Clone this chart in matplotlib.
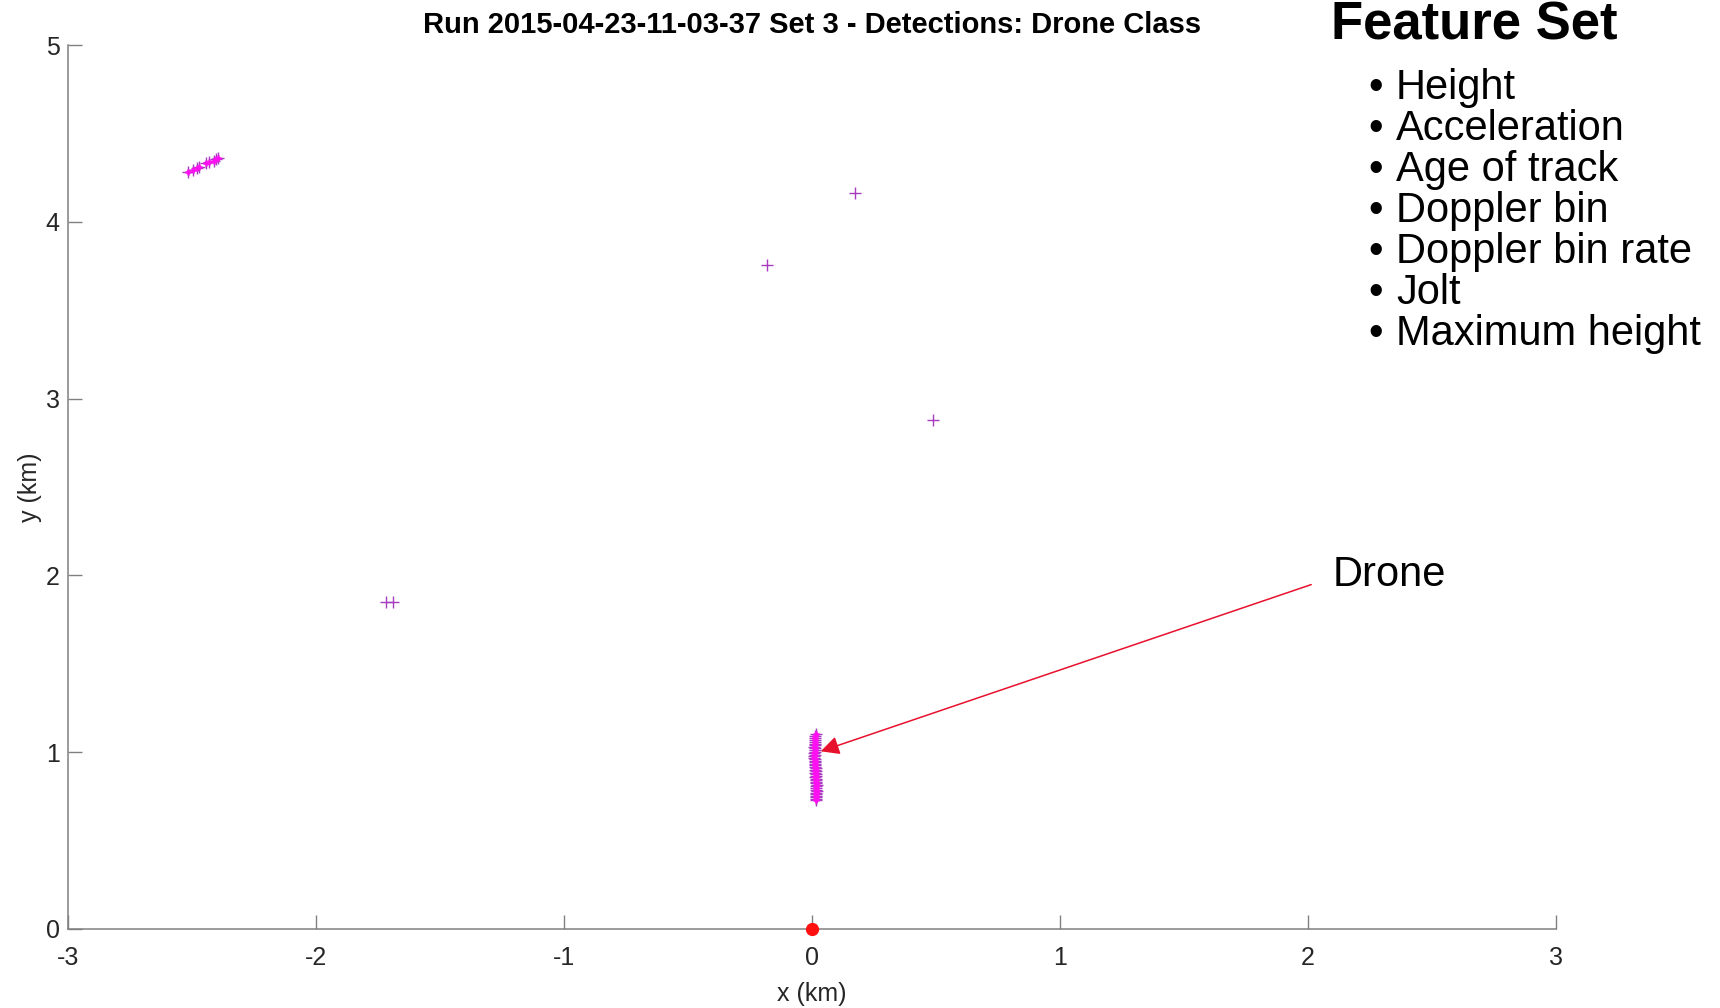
import matplotlib
matplotlib.use("Agg")
import matplotlib.pyplot as plt
from matplotlib import font_manager

# Detection positions (km) classified as drone
cluster_x = [-2.515, -2.497, -2.481, -2.471, -2.444, -2.430, -2.411, -2.403, -2.394]
cluster_y = [4.283, 4.293, 4.303, 4.312, 4.331, 4.337, 4.346, 4.353, 4.359]

stray_x = [-0.181, 0.173, 0.487, -1.717, -1.690]
stray_y = [3.753, 4.163, 2.878, 1.849, 1.849]

drone_x = [0.015, 0.013, 0.012, 0.014, 0.011, 0.013, 0.012, 0.010, 0.011, 0.013,
           0.012, 0.010, 0.011, 0.009, 0.010, 0.012, 0.011, 0.013, 0.012, 0.014,
           0.013, 0.015, 0.014, 0.016, 0.013, 0.015, 0.017, 0.014, 0.016, 0.018,
           0.015, 0.017, 0.019, 0.016, 0.018, 0.017, 0.019, 0.018, 0.016, 0.018,
           0.017, 0.015, 0.016]
drone_y = [1.105, 1.092, 1.080, 1.068, 1.057, 1.047, 1.038, 1.030, 1.021, 1.012,
           1.003, 0.995, 0.986, 0.978, 0.970, 0.961, 0.952, 0.944, 0.935, 0.927,
           0.918, 0.909, 0.900, 0.892, 0.884, 0.875, 0.866, 0.858, 0.849, 0.840,
           0.832, 0.823, 0.815, 0.806, 0.798, 0.789, 0.780, 0.771, 0.762, 0.753,
           0.745, 0.736, 0.728]

radar_x = [0.0]
radar_y = [0.0]

x_ticks = [-3, -2, -1, 0, 1, 2, 3]
y_ticks = [0, 1, 2, 3, 4, 5]

features = ["Height", "Acceleration", "Age of track", "Doppler bin",
            "Doppler bin rate", "Jolt", "Maximum height"]

title_text = "Run 2015-04-23-11-03-37 Set 3 - Detections: Drone Class"

installed = {f.name for f in font_manager.fontManager.ttflist}
tick_family = "Liberation Sans Narrow" if "Liberation Sans Narrow" in installed else "Liberation Sans"
plt.rcParams["font.family"] = ["Liberation Sans", "DejaVu Sans"]

W, H = 1720, 1008
fig = plt.figure(figsize=(W / 100, H / 100), dpi=100)
fig.patch.set_facecolor("white")

ax = fig.add_axes([68 / W, 79 / H, 1488 / W, 884 / H])

all_x = cluster_x + stray_x + drone_x
all_y = cluster_y + stray_y + drone_y
dense_x = cluster_x + drone_x
dense_y = cluster_y + drone_y

# thin purple crosses for every detection
ax.plot(all_x, all_y, linestyle="none", marker="+", ms=8, mew=1.0,
        color="#a83cc0", zorder=3)
# overlapping detections read as solid magenta
ax.plot(dense_x, dense_y, linestyle="none", marker="+", ms=5, mew=1.8,
        color="#ff10f0", zorder=4)

ax.plot(radar_x, radar_y, linestyle="none", marker="o", ms=8.5,
        color="#ff1010", mec="#ff1010", zorder=5, clip_on=False)

ax.set_xlim(-3, 3)
ax.set_ylim(0, 5)
ax.set_xticks(x_ticks)
ax.set_yticks(y_ticks)
ax.set_xticklabels([str(t) for t in x_ticks], family=tick_family, fontsize=18,
                   color="#262626")
ax.set_yticklabels([str(t) for t in y_ticks], family=tick_family, fontsize=18,
                   color="#262626")

for side in ("top", "right"):
    ax.spines[side].set_visible(False)
for side in ("left", "bottom"):
    ax.spines[side].set_color("#808080")
    ax.spines[side].set_linewidth(1.1)

ax.tick_params(axis="both", direction="in", length=10, width=1.0, color="#808080")
ax.tick_params(axis="x", pad=12)
ax.tick_params(axis="y", pad=6)

ax.set_xlabel("x (km)", family=tick_family, fontsize=18, color="#262626", labelpad=9)
ax.set_ylabel("y (km)", family=tick_family, fontsize=18, color="#262626", labelpad=3)

ax.set_title(title_text, fontsize=21, fontweight="bold", color="black", pad=9)

# arrow pointing at the drone track
ax.annotate("", xy=(0.035, 1.005), xytext=(2.013, 1.948),
            arrowprops=dict(arrowstyle="-|>", color="#e8112d", lw=1.1,
                            mutation_scale=28, shrinkA=0, shrinkB=0),
            zorder=6)


def px(x, y):
    return x / W, 1 - y / H


fig.text(*px(1333, 586), "Drone", fontsize=30, color="black",
         ha="left", va="baseline")

fig.text(*px(1331, 40), "Feature Set", fontsize=38, fontweight="bold",
         color="black", ha="left", va="baseline")

for i, name in enumerate(features):
    base = 99 + 41 * i
    fig.text(*px(1368, base), "\u2022", fontsize=30, color="black",
             ha="left", va="baseline")
    fig.text(*px(1396, base), name, fontsize=30, color="black",
             ha="left", va="baseline")

fig.savefig("out.png", dpi=100, facecolor="white")
